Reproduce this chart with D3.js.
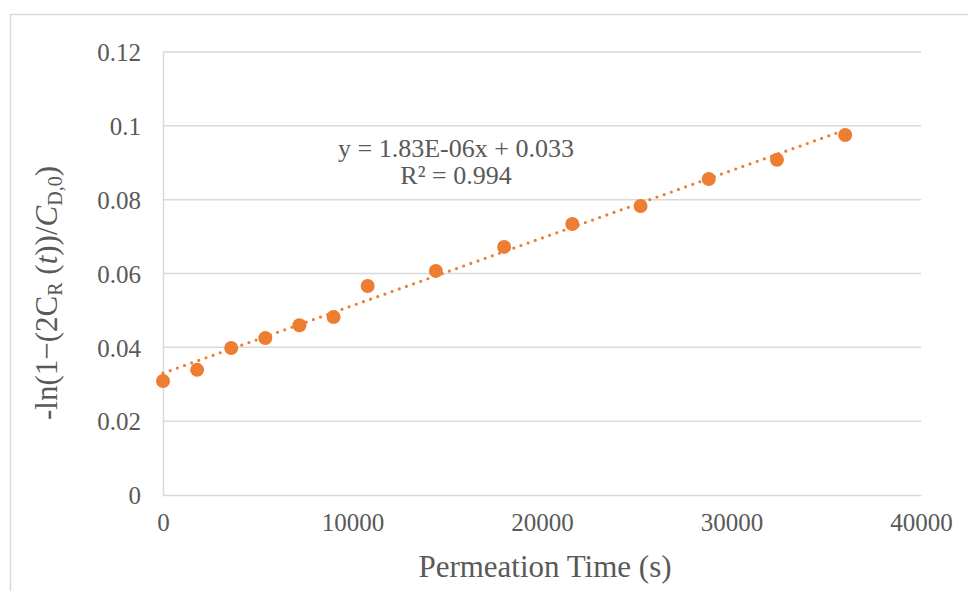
<!DOCTYPE html>
<html><head><meta charset="utf-8">
<script src="https://cdn.jsdelivr.net/npm/d3@7"></script>
<style>
body{margin:0;background:#fff;}
svg text{font-family:"Liberation Serif","Times New Roman",serif !important;fill:#595959;}
</style></head>
<body><svg id="c" width="968" height="591"></svg>
<script>
const timeS = [0,1800,3600,5400,7200,9000,10800,14400,18000,21600,25200,28800,32400,36000];
const lnVals = [0.0309,0.0339,0.0398,0.0425,0.0460,0.0482,0.0566,0.0607,0.0672,0.0734,0.0783,0.0856,0.0908,0.0975];
const xTicks = [0,10000,20000,30000,40000];
const yTicks = [0,0.02,0.04,0.06,0.08,0.1,0.12];
const slope = 1.83e-6, intercept = 0.033;
const eqLines = ["y = 1.83E-06x + 0.033","R² = 0.994"];
const orange = "#ED7D31";

const svg = d3.select("#c");
svg.append("rect").attr("x",10.5).attr("y",14.5).attr("width",1000).attr("height",700)
  .attr("fill","#fff").attr("stroke","#d9d9d9").attr("stroke-width",1.5);

const L=163,R=921,T=52,B=495;
const x = d3.scaleLinear().domain([0,40000]).range([L,R]);
const y = d3.scaleLinear().domain([0,0.12]).range([B,T]);

svg.append("g").selectAll("line").data(yTicks.filter(d=>d>0)).join("line")
  .attr("x1",L).attr("x2",R).attr("y1",d=>y(d)).attr("y2",d=>y(d))
  .attr("stroke","#d9d9d9").attr("stroke-width",1.5);

const yAxis = svg.append("g").attr("transform",`translate(${L},0)`)
  .call(d3.axisLeft(y).tickValues(yTicks).tickSize(0).tickPadding(22).tickFormat(d=>String(+d.toFixed(2))));
const xAxis = svg.append("g").attr("transform",`translate(0,${B})`)
  .call(d3.axisBottom(x).tickValues(xTicks).tickSize(0).tickPadding(18).tickFormat(d=>String(d)));
[yAxis,xAxis].forEach(a=>{
  a.attr("font-family","Liberation Serif").attr("font-size",25);
  a.select(".domain").attr("stroke","#d9d9d9").attr("stroke-width",1.5);
  a.selectAll("text").attr("fill","#595959");
});
yAxis.selectAll("text").attr("dy","0.35em");

const tx=[timeS[0],timeS[timeS.length-1]];
svg.append("line").attr("x1",x(tx[0])).attr("x2",x(tx[1]))
  .attr("y1",y(slope*tx[0]+intercept)).attr("y2",y(slope*tx[1]+intercept))
  .attr("stroke",orange).attr("stroke-width",3.2).attr("stroke-linecap","round")
  .attr("stroke-dasharray","0 7.6");

svg.append("g").selectAll("circle").data(timeS.map((t,i)=>[t,lnVals[i]])).join("circle")
  .attr("cx",d=>x(d[0])).attr("cy",d=>y(d[1])).attr("r",7).attr("fill",orange);

const eq = svg.append("text").attr("text-anchor","middle").style("font-size","26px");
eq.selectAll("tspan").data(eqLines).join("tspan")
  .attr("x",456).attr("y",(d,i)=>157+i*26.5).text(d=>d);

svg.append("text").attr("x",(L+R)/2+3).attr("y",577).attr("text-anchor","middle")
  .style("font-size","31px").text("Permeation Time (s)");

const yt = svg.append("text").attr("transform","translate(57,293) rotate(-90)")
  .attr("text-anchor","middle").style("font-size","31px");
yt.append("tspan").text("-ln(1−(2C");
yt.append("tspan").attr("baseline-shift","-25%").style("font-size","20px").text("R");
yt.append("tspan").text(" (");
yt.append("tspan").style("font-style","italic").text("t");
yt.append("tspan").text("))/");
yt.append("tspan").style("font-style","italic").text("C");
yt.append("tspan").attr("baseline-shift","-25%").style("font-size","20px").text("D,0");
yt.append("tspan").text(")");
</script></body></html>
